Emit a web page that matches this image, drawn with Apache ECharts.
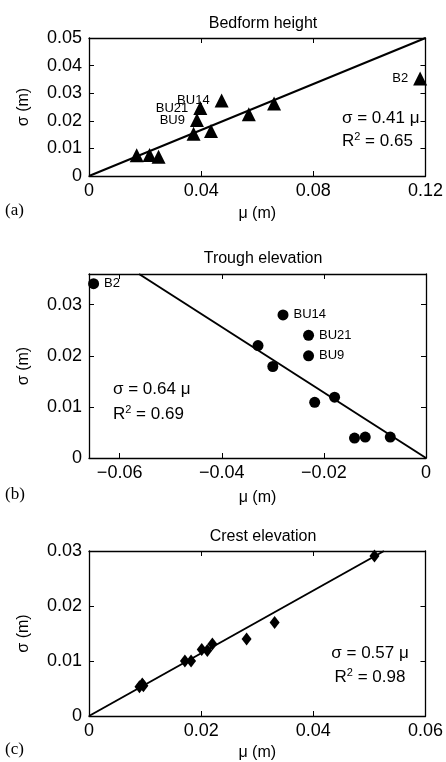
<!DOCTYPE html>
<html><head><meta charset="utf-8">
<script src="https://cdn.jsdelivr.net/npm/echarts@6/dist/echarts.min.js"></script>
<style>html,body{margin:0;padding:0;background:#fff}#c{width:446px;height:762px}</style>
</head><body><div id="c"></div>
<script>
// Panel (a) Bedform height
const aMu    = [0.0170, 0.0216, 0.0248, 0.0373, 0.0385, 0.0397, 0.0435, 0.0473, 0.0570, 0.0660, 0.1181];
const aSigma = [0.0075, 0.0076, 0.0070, 0.0153, 0.0203, 0.0246, 0.0163, 0.0274, 0.0224, 0.0263, 0.0353];
const aNames = ['', '', '', '', 'BU9', 'BU21', '', 'BU14', '', '', 'B2'];
const aFit   = [[0, 0], [0.12, 0.05]];
// Panel (b) Trough elevation
const bMu    = [-0.0651, -0.0329, -0.0300, -0.0280, -0.0230, -0.0230, -0.0218, -0.0179, -0.0140, -0.0119, -0.0070];
const bSigma = [0.0341, 0.0220, 0.0179, 0.0280, 0.0240, 0.0200, 0.0109, 0.0119, 0.0039, 0.0041, 0.0041];
const bNames = ['B2', '', '', 'BU14', 'BU21', 'BU9', '', '', '', '', ''];
const bFit   = [[0, 0], [-0.0562, 0.036]];
// Panel (c) Crest elevation
const cMu    = [0.0090, 0.0095, 0.0097, 0.0171, 0.0182, 0.0201, 0.0211, 0.0220, 0.0281, 0.0331, 0.0509];
const cSigma = [0.0053, 0.0058, 0.0055, 0.0100, 0.0100, 0.0121, 0.0119, 0.0131, 0.0140, 0.0170, 0.0291];
const cFit   = [[0, 0], [0.0526, 0.03]];
// Tick values
const aXTicks = [0, 0.04, 0.08, 0.12];
const aYTicks = [0, 0.01, 0.02, 0.03, 0.04, 0.05];
const bXTicks = [-0.06, -0.04, -0.02, 0];
const bYTicks = [0, 0.01, 0.02, 0.03];
const cXTicks = [0, 0.02, 0.04, 0.06];
const cYTicks = [0, 0.01, 0.02, 0.03];

const FONT = 'Liberation Sans, Arial, sans-serif';
function fmt(v) {
  if (Math.abs(v) < 1e-9) return '0';
  const s = Math.abs(v).toFixed(2);
  return (v < 0 ? '\u2212' : '') + s;
}
function axis(type, gi, min, max, ticks, pos, showLabels, name, nameGap) {
  const a = {
    type: 'value', gridIndex: gi, min: min, max: max, position: pos,
    splitLine: { show: false },
    axisLine: { show: true, onZero: false, lineStyle: { color: '#000', width: 1.3 } },
    axisTick: { show: true, inside: true, length: 5, customValues: ticks, lineStyle: { color: '#000', width: 1 } },
    axisLabel: { show: showLabels, customValues: ticks, formatter: fmt, color: '#000', fontSize: 18, fontFamily: FONT,
                 margin: type === 'x' ? 6 : 7 }
  };
  if (name) {
    a.name = name; a.nameLocation = 'middle'; a.nameGap = nameGap;
    a.nameTextStyle = { color: '#000', fontSize: 16, fontFamily: FONT };
  }
  return a;
}
function pts(xs, ys, names) {
  return xs.map((x, i) => ({ value: [x, ys[i]], name: names ? names[i] : '' }));
}
const grids = [
  { left: 89, top: 38, width: 337, height: 138 },
  { left: 89, top: 274, width: 337, height: 184 },
  { left: 89, top: 551, width: 337, height: 167 }
];
const xAxes = [
  axis('x', 0, 0, 0.12, aXTicks, 'bottom', true, '\u03bc (m)', 30),
  axis('x', 0, 0, 0.12, aXTicks, 'top', false),
  axis('x', 1, -0.066, 0, bXTicks, 'bottom', true, '\u03bc (m)', 32),
  axis('x', 1, -0.066, 0, bXTicks, 'top', false),
  axis('x', 2, 0, 0.06, cXTicks, 'bottom', true, '\u03bc (m)', 29),
  axis('x', 2, 0, 0.06, cXTicks, 'top', false)
];
const yAxes = [
  axis('y', 0, 0, 0.05, aYTicks, 'left', true, '\u03c3 (m)', 57),
  axis('y', 0, 0, 0.05, aYTicks, 'right', false),
  axis('y', 1, 0, 0.036, bYTicks, 'left', true, '\u03c3 (m)', 57),
  axis('y', 1, 0, 0.036, bYTicks, 'right', false),
  axis('y', 2, 0, 0.03, cYTicks, 'left', true, '\u03c3 (m)', 57),
  axis('y', 2, 0, 0.03, cYTicks, 'right', false)
];
function ptLabel(pos) {
  return { show: true, position: pos, distance: 5, color: '#000', fontSize: 13, fontFamily: FONT,
           formatter: p => p.name || '' };
}
function fit(xi, yi, data) {
  return { type: 'line', xAxisIndex: xi, yAxisIndex: yi, data: data, symbol: 'none', silent: true,
           lineStyle: { color: '#000', width: 2, opacity: 1 }, z: 1 };
}
const mark = { color: '#000', opacity: 1 };
const series = [
  fit(0, 0, aFit),
  { type: 'scatter', xAxisIndex: 0, yAxisIndex: 0, data: pts(aMu, aSigma, aNames), symbol: 'triangle', symbolSize: 14,
    itemStyle: mark, label: ptLabel('left'), z: 3 },
  fit(2, 2, bFit),
  { type: 'scatter', xAxisIndex: 2, yAxisIndex: 2, data: pts(bMu, bSigma, bNames), symbol: 'circle', symbolSize: 11,
    itemStyle: mark, label: ptLabel('right'), z: 3 },
  fit(4, 4, cFit),
  { type: 'scatter', xAxisIndex: 4, yAxisIndex: 4, data: pts(cMu, cSigma), symbol: 'diamond', symbolSize: [10, 13],
    itemStyle: mark, z: 3 }
];
const titleStyle = { color: '#000', fontSize: 16, fontWeight: 'normal', fontFamily: FONT };
const titles = [
  { text: 'Bedform height', left: 258, top: 11, textAlign: 'center', textStyle: titleStyle },
  { text: 'Trough elevation', left: 258, top: 246, textAlign: 'center', textStyle: titleStyle },
  { text: 'Crest elevation', left: 258, top: 524, textAlign: 'center', textStyle: titleStyle }
];
const rich = {
  a: { fontSize: 17, fontFamily: FONT, fill: '#000' },
  s: { fontSize: 11, fontFamily: FONT, fill: '#000', verticalAlign: 'top', padding: [0, 0, 8, 0] }
};
function eq(x, y, txt, align) {
  return { type: 'text', x: x, y: y, style: { text: txt, fill: '#000', font: '17px ' + FONT, align: align || 'left', verticalAlign: 'middle' } };
}
function r2(x, y, val, align) {
  return { type: 'text', x: x, y: y, style: { text: '{a|R}{s|2}{a| = ' + val + '}', rich: rich, align: align || 'left', verticalAlign: 'middle' } };
}
function tag(y, t) {
  return { type: 'text', x: 5, y: y, style: { text: t, fill: '#000', font: '17px Liberation Serif, Times New Roman, serif', verticalAlign: 'middle' } };
}
const graphic = [
  eq(342, 118, '\u03c3 = 0.41 \u03bc'), r2(342, 141, '0.65'),
  eq(113, 389, '\u03c3 = 0.64 \u03bc'), r2(113, 414, '0.69'),
  eq(370, 653, '\u03c3 = 0.57 \u03bc', 'center'), r2(370, 677, '0.98', 'center'),
  tag(211, '(a)'), tag(495, '(b)'), tag(750, '(c)')
];
const chart = echarts.init(document.getElementById('c'), null, { renderer: 'canvas' });
chart.setOption({
  animation: false, backgroundColor: '#fff',
  title: titles, grid: grids, xAxis: xAxes, yAxis: yAxes, series: series, graphic: graphic
});
</script></body></html>
